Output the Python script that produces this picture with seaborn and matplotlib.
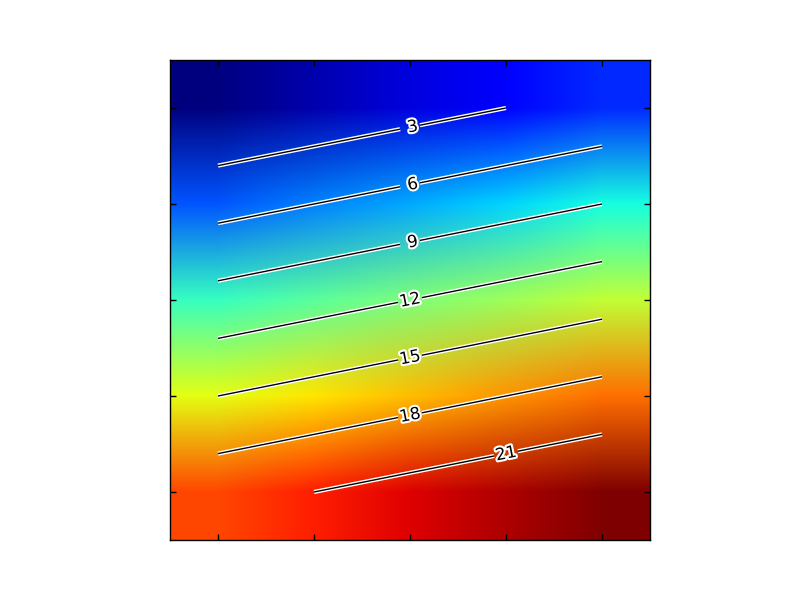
import numpy as np
import matplotlib
matplotlib.use("Agg")
import matplotlib.pyplot as plt
import matplotlib.patheffects as patheffects
import seaborn as sns

# 5x5 grid of values (row-major)
row0 = [0, 1, 2, 3, 4]
row1 = [5, 6, 7, 8, 9]
row2 = [10, 11, 12, 13, 14]
row3 = [15, 16, 17, 18, 19]
row4 = [20, 21, 22, 23, 24]
levels = [3, 6, 9, 12, 15, 18, 21]
tick_positions = [0, 1, 2, 3, 4]
# column at which each contour label sits
label_cols = [2, 2, 2, 2, 2, 2, 3]

sns.set_style("white")
plt.rcParams["font.family"] = ["DejaVu Sans"]
plt.rcParams["font.size"] = 12

arr = np.array([row0, row1, row2, row3, row4], dtype=float)

fig = plt.figure(figsize=(8, 6), dpi=100)
ax = fig.add_axes([0.125, 0.1, 0.775, 0.8])
ax.imshow(arr, cmap="jet", interpolation="bilinear", origin="upper",
          interpolation_stage="rgba")
cntr = ax.contour(arr, levels=levels, colors="k", linewidths=1.0)
cntr.set_path_effects([patheffects.withStroke(linewidth=3, foreground="w")])

# label positions located on the contours from the data itself
rows = np.arange(arr.shape[0])
manual = [(c, float(np.interp(lv, arr[:, c], rows))) for lv, c in zip(levels, label_cols)]
clbls = ax.clabel(cntr, fmt="%2.0f", use_clabeltext=True, fontsize=12, manual=manual)
plt.setp(clbls, path_effects=[patheffects.withStroke(linewidth=3, foreground="w")])

ax.set_xticks(tick_positions)
ax.set_yticks(tick_positions)
ax.set_xticklabels([])
ax.set_yticklabels([])
ax.tick_params(direction="in", length=4, width=1, color="k",
               top=True, right=True, bottom=True, left=True)
for s in ax.spines.values():
    s.set_visible(True)
    s.set_color("k")
    s.set_linewidth(1.0)

fig.savefig("out.png", dpi=100, facecolor="white")
